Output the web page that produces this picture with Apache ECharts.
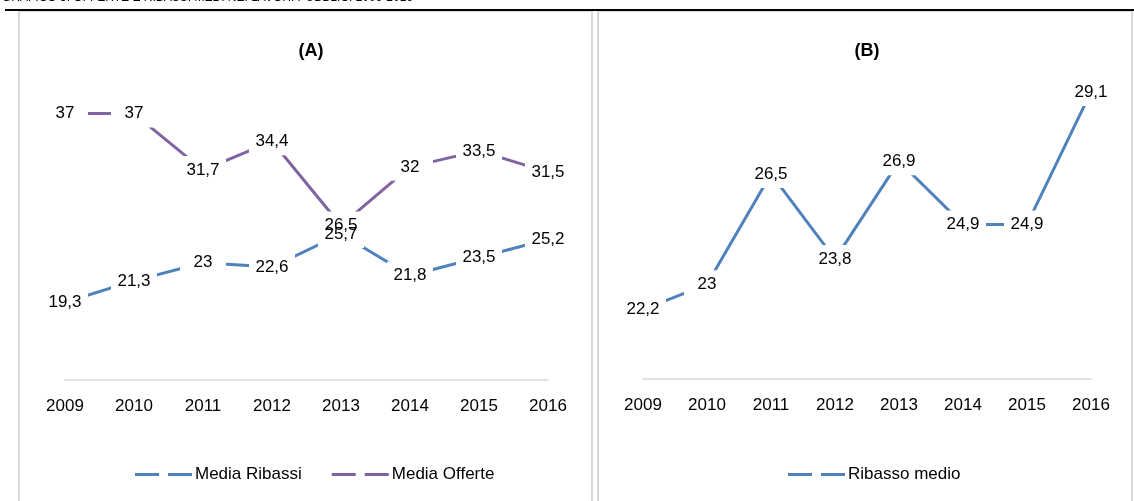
<!DOCTYPE html>
<html>
<head>
<meta charset="utf-8">
<script src="https://cdn.jsdelivr.net/npm/echarts@6/dist/echarts.min.js"></script>
<style>
  html, body { margin: 0; padding: 0; background: #fff; }
  #chart { width: 1134px; height: 501px; }
</style>
</head>
<body>
<div id="chart"></div>
<script>
// dati
const anni = ['2009', '2010', '2011', '2012', '2013', '2014', '2015', '2016']
const mediaRibassi = [19.3, 21.3, 23, 22.6, 25.7, 21.8, 23.5, 25.2]
const mediaOfferte = [37, 37, 31.7, 34.4, 26.5, 32, 33.5, 31.5]
const ribassoMedio = [22.2, 23, 26.5, 23.8, 26.9, 24.9, 24.9, 29.1]

const FONT = "'Liberation Sans', Arial, sans-serif"
const BLU = '#4F81BD'
const VIOLA = '#8064A2'
const GRIGIO = '#d9d9d9'
const ICONA = 'path://M0,0H24V3H0Z M33,0H57V3H33Z'

const chart = echarts.init(document.getElementById('chart'))

// virgola decimale
const fmt = (p) => String(p.value).replace('.', ',')

function serie(name, data, color, idx) {
  return {
    name: name,
    type: 'line',
    data: data,
    xAxisIndex: idx,
    yAxisIndex: idx,
    symbol: 'rect',
    symbolSize: [46, 28],
    itemStyle: { color: '#fff', borderWidth: 0 },
    lineStyle: { color: color, width: 3 },
    label: {
      show: true,
      position: 'inside',
      formatter: fmt,
      color: '#000',
      fontSize: 17,
      fontFamily: FONT
    },
    emphasis: { disabled: true },
    animation: false
  }
}

function asseX(idx) {
  return {
    type: 'category',
    gridIndex: idx,
    data: anni,
    boundaryGap: false,
    axisLine: { lineStyle: { color: GRIGIO, width: 1.5 } },
    axisTick: { show: false },
    axisLabel: { color: '#000', fontSize: 17, fontFamily: FONT, margin: 18 },
    splitLine: { show: false }
  }
}

const option = {
  backgroundColor: '#fff',
  title: [
    { text: '(A)', left: 306, top: 37, textAlign: 'center',
      textStyle: { fontSize: 18, fontWeight: 'bold', fontFamily: FONT, color: '#000' } },
    { text: '(B)', left: 862, top: 37, textAlign: 'center',
      textStyle: { fontSize: 18, fontWeight: 'bold', fontFamily: FONT, color: '#000' } }
  ],
  graphic: [
    { type: 'text', left: 2, top: -8,
      style: { text: 'GRAFICO 3: OFFERTE E RIBASSI MEDI NEI LAVORI PUBBLICI 2009-2016', fontSize: 12, fontFamily: FONT, fill: '#000' } },
    { type: 'rect', shape: { x: 19, y: 11, width: 573, height: 500 },
      style: { fill: 'none', stroke: GRIGIO, lineWidth: 2 } },
    { type: 'rect', shape: { x: 598, y: 11, width: 534, height: 500 },
      style: { fill: 'none', stroke: GRIGIO, lineWidth: 2 } },
    { type: 'line', shape: { x1: 5, y1: 10, x2: 1134, y2: 10 },
      style: { stroke: '#000', lineWidth: 2 } }
  ],
  grid: [
    { left: 65, right: 586, top: 81.6, bottom: 121 },
    { left: 643, right: 43, top: 63.5, bottom: 122 }
  ],
  xAxis: [asseX(0), asseX(1)],
  yAxis: [
    { type: 'value', gridIndex: 0, min: 12, max: 40, show: false },
    { type: 'value', gridIndex: 1, min: 20, max: 30, show: false }
  ],
  legend: [
    {
      left: 130, top: 461,
      icon: ICONA, itemWidth: 57, itemHeight: 3, itemGap: 30,
      textStyle: { color: '#000', fontSize: 17, fontFamily: FONT, padding: [0, 0, 0, -2] },
      data: [
        { name: 'Media Ribassi', itemStyle: { color: BLU } },
        { name: 'Media Offerte', itemStyle: { color: VIOLA } }
      ],
      selectedMode: false
    },
    {
      left: 783, top: 461,
      icon: ICONA, itemWidth: 57, itemHeight: 3,
      textStyle: { color: '#000', fontSize: 17, fontFamily: FONT, padding: [0, 0, 0, -2] },
      data: [{ name: 'Ribasso medio', itemStyle: { color: BLU } }],
      selectedMode: false
    }
  ],
  series: [
    serie('Media Ribassi', mediaRibassi, BLU, 0),
    serie('Media Offerte', mediaOfferte, VIOLA, 0),
    serie('Ribasso medio', ribassoMedio, BLU, 1)
  ]
}

chart.setOption(option)
</script>
</body>
</html>
